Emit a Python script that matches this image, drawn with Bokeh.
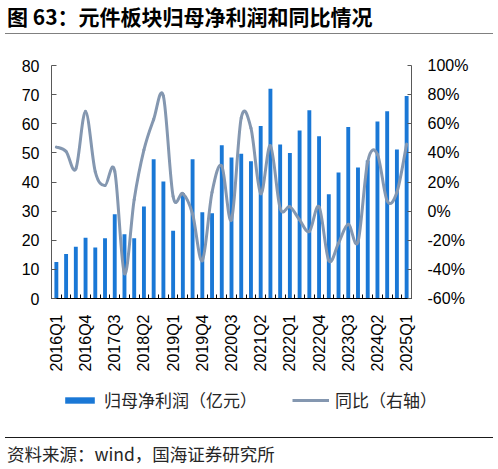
import math
from bokeh.plotting import figure
from bokeh.layouts import column
from bokeh.models import (Range1d, LinearAxis, FixedTicker, Div,
                          Legend, LegendItem, ColumnDataSource, PrintfTickFormatter)
from bokeh.embed import file_html
from bokeh.resources import INLINE

# ---------------- data ----------------
quarters = ["2016Q1", "2016Q2", "2016Q3", "2016Q4",
            "2017Q1", "2017Q2", "2017Q3", "2017Q4",
            "2018Q1", "2018Q2", "2018Q3", "2018Q4",
            "2019Q1", "2019Q2", "2019Q3", "2019Q4",
            "2020Q1", "2020Q2", "2020Q3", "2020Q4",
            "2021Q1", "2021Q2", "2021Q3", "2021Q4",
            "2022Q1", "2022Q2", "2022Q3", "2022Q4",
            "2023Q1", "2023Q2", "2023Q3", "2023Q4",
            "2024Q1", "2024Q2", "2024Q3", "2024Q4",
            "2025Q1"]
profit = [12.5, 15.3, 17.8, 20.9,
          17.5, 20.7, 28.9, 22.1,
          20.7, 31.6, 47.8, 40.2,
          23.3, 36.2, 47.8, 29.6,
          29.3, 52.6, 48.4, 49.7,
          47.1, 59.2, 72.0, 52.9,
          50.0, 57.7, 64.6, 55.7,
          35.8, 43.3, 58.9, 45.0,
          47.4, 60.8, 64.3, 51.2,
          69.5]
yoy = [44, 41, 29, 68.5,
       27, 17.6, 27.5, -43,
       8, 42, 63, 79,
       10, 12, -2, -34,
       13, 31, -6, 64,
       57, 12, 45, 2,
       3, -6, -14, 3,
       -34, -22, -9, -21,
       34, 39, 7, 13,
       46]
tick_labels = ["2016Q1", "2016Q4", "2017Q3", "2018Q2", "2019Q1", "2019Q4", "2020Q3",
               "2021Q2", "2022Q1", "2022Q4", "2023Q3", "2024Q2", "2025Q1"]
left_ticks = [0, 10, 20, 30, 40, 50, 60, 70, 80]
right_ticks = [-60, -40, -20, 0, 20, 40, 60, 80, 100]
title_text = "图 63：元件板块归母净利润和同比情况"
source_text = "资料来源：wind，国海证券研究所"
bar_name = "归母净利润（亿元）"
line_name = "同比（右轴）"

# ---------------- style ----------------
BAR = "#1a78d6"
LINE = "#8497b0"
LATIN = "Liberation Sans"
CJK = "Noto Sans CJK SC"

TOTAL_W = 498
TITLE_H = 34
LEG_H = 62
SRC_H = 32
FIG_H = 469 - TITLE_H - LEG_H - SRC_H
BL, BR, BT = 51, 87, 31
BB = FIG_H - BT - 233

xs = list(range(len(quarters)))
n = len(quarters)

p = figure(width=TOTAL_W, height=FIG_H, output_backend="svg", toolbar_location=None,
           x_range=Range1d(-0.5, n - 0.5), y_range=Range1d(left_ticks[0], left_ticks[-1]),
           min_border_left=BL, min_border_right=BR, min_border_top=BT, min_border_bottom=BB,
           background_fill_color="white", border_fill_color="white", margin=0)
p.extra_y_ranges = {"pct": Range1d(right_ticks[0], right_ticks[-1])}
p.outline_line_color = None
p.xgrid.visible = False
p.ygrid.visible = False

src = ColumnDataSource(dict(x=xs, profit=profit, yoy=yoy, q=quarters))
bars = p.vbar(x="x", top="profit", width=0.4, source=src,
              fill_color=BAR, line_color=None)

# smooth line (bezier segments through every data point)
bz = dict(x0=[], y0=[], x1=[], y1=[], cx0=[], cy0=[], cx1=[], cy1=[])
for i in range(n - 1):
    a = max(i - 1, 0)
    d = min(i + 2, n - 1)
    bz["x0"].append(xs[i]); bz["y0"].append(yoy[i])
    bz["x1"].append(xs[i + 1]); bz["y1"].append(yoy[i + 1])
    bz["cx0"].append(xs[i] + (xs[i + 1] - xs[a]) / 6)
    bz["cy0"].append(yoy[i] + (yoy[i + 1] - yoy[a]) / 6)
    bz["cx1"].append(xs[i + 1] - (xs[d] - xs[i]) / 6)
    bz["cy1"].append(yoy[i + 1] - (yoy[d] - yoy[i]) / 6)
curve = p.bezier(x0="x0", y0="y0", x1="x1", y1="y1", cx0="cx0", cy0="cy0",
                 cx1="cx1", cy1="cy1", source=ColumnDataSource(bz),
                 y_range_name="pct", line_color=LINE, line_width=3, line_cap="round")

# x axis
xa = p.xaxis[0]
tick_pos = [quarters.index(t) for t in tick_labels]
xa.ticker = FixedTicker(ticks=tick_pos, minor_ticks=[i - 0.5 for i in range(n + 1)])
xa.major_label_overrides = {pos: lab for pos, lab in zip(tick_pos, tick_labels)}
xa.major_label_orientation = math.pi / 2
xa.major_tick_line_color = None
xa.minor_tick_in = 4
xa.minor_tick_out = 0
xa.minor_tick_line_color = "black"
xa.axis_line_color = "black"
xa.axis_line_width = 1.2
xa.major_label_text_font = LATIN
xa.major_label_text_font_size = "16px"
xa.major_label_text_color = "black"
xa.major_label_standoff = 10

# left y axis
ya = p.yaxis[0]
ya.ticker = FixedTicker(ticks=left_ticks)
ya.major_tick_in = 5
ya.major_tick_out = 0
ya.minor_tick_line_color = None
ya.axis_line_color = "#595959"
ya.major_tick_line_color = "#595959"
ya.major_label_text_font = LATIN
ya.major_label_text_font_size = "16px"
ya.major_label_text_color = "black"
ya.major_label_standoff = 12

# right y axis
ra = LinearAxis(y_range_name="pct", ticker=FixedTicker(ticks=right_ticks),
                formatter=PrintfTickFormatter(format="%d%%"))
ra.major_tick_in = 4
ra.major_tick_out = 0
ra.minor_tick_line_color = None
ra.axis_line_color = "#595959"
ra.major_tick_line_color = "#595959"
ra.major_label_text_font = LATIN
ra.major_label_text_font_size = "16px"
ra.major_label_text_color = "black"
ra.major_label_standoff = 16
p.add_layout(ra, "right")

# legend strip: a frame-only figure; its key renderers share the chart's data
# and styles but stay hidden, so only the legend keys show
lg = figure(width=TOTAL_W, height=LEG_H, output_backend="svg", toolbar_location=None,
            x_axis_location=None, y_axis_location=None,
            x_range=Range1d(-0.5, n - 0.5), y_range=Range1d(left_ticks[0], left_ticks[-1]),
            min_border_left=0, min_border_right=0, min_border_top=0, min_border_bottom=0,
            background_fill_color="white", border_fill_color="white", margin=0)
lg.frame_align = False
lg.outline_line_color = None
lg.xgrid.visible = False
lg.ygrid.visible = False
key_bar = lg.vbar(x="x", top="profit", width=0.4, source=src,
                  fill_color=BAR, line_color=None, visible=False)
key_line = lg.line(x="x", y="yoy", source=src, line_color=LINE, line_width=3,
                   visible=False)
legend = Legend(items=[LegendItem(label=bar_name, renderers=[key_bar]),
                       LegendItem(label=line_name, renderers=[key_line])],
                orientation="horizontal", location=(61, 25),
                glyph_width=37, glyph_height=8, label_standoff=6, spacing=35,
                padding=0, margin=0, border_line_color=None,
                background_fill_alpha=0, inactive_fill_alpha=0,
                label_text_font=CJK, label_text_font_size="17px",
                label_text_color="#262626")
lg.add_layout(legend, "center")

title_div = Div(
    text=('<div style="width:488px;height:%dpx;box-sizing:border-box;'
          'border-bottom:1.5px solid #808080;font-family:\'%s\';font-size:21px;'
          'font-weight:bold;color:#000;line-height:32px;padding-left:2px;'
          'white-space:nowrap;overflow:hidden">%s</div>') % (TITLE_H, CJK, title_text),
    width=488, height=TITLE_H, margin=(0, 5, 0, 5))
src_div = Div(
    text=('<div style="width:488px;height:%dpx;box-sizing:border-box;'
          'border-top:1.5px solid #1a1a1a;font-family:\'%s\';font-size:17.5px;'
          'color:#262626;line-height:32px;padding-left:2px;'
          'white-space:nowrap;overflow:hidden">%s</div>') % (SRC_H, CJK, source_text),
    width=488, height=SRC_H, margin=(0, 5, 0, 5))

layout = column(title_div, p, lg, src_div, spacing=0, margin=0)

open("out.html", "w").write(file_html(layout, INLINE))
